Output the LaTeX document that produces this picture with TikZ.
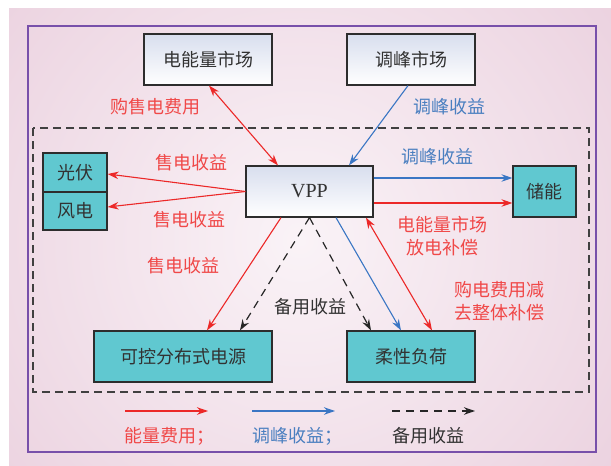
\documentclass[tikz,border=0pt]{standalone}
\usepackage{fontspec}
\setmainfont{Liberation Serif}
\newfontfamily\cjk{Noto Sans CJK SC}
\usetikzlibrary{arrows.meta,calc}
\definecolor{bgpink}{RGB}{230,198,215}
\definecolor{bglight}{RGB}{250,243,247}
\definecolor{frm}{RGB}{120,80,170}
\definecolor{cyanbox}{RGB}{96,200,208}
\definecolor{topbox}{RGB}{216,222,238}
\definecolor{redl}{RGB}{236,40,40}
\definecolor{redt}{RGB}{240,72,72}
\definecolor{bluel}{RGB}{58,118,196}
\definecolor{bluet}{RGB}{74,127,192}
\definecolor{txtgray}{RGB}{50,50,50}
\tikzset{
  box/.style={draw=txtgray!90!black, line width=1.2pt, rectangle, inner sep=0pt,
    font=\cjk\fontsize{18}{20}\selectfont, text=txtgray},
  mkt/.style={box, top color=topbox, bottom color=white},
  unit/.style={box, fill=cyanbox},
  redarr/.style={draw=redl, line width=1.1pt, -{Stealth[length=11pt,width=7.5pt]}},
  redboth/.style={draw=redl, line width=1.1pt, {Stealth[length=11pt,width=7.5pt]}-{Stealth[length=11pt,width=7.5pt]}},
  bluearr/.style={draw=bluel, line width=1.1pt, -{Stealth[length=11pt,width=7.5pt]}},
  blackarr/.style={draw=black!85, line width=1.2pt, dash pattern=on 8pt off 6pt, -{Stealth[length=11pt,width=7.5pt]}},
  lbl/.style={font=\cjk\fontsize{18}{22.5}\selectfont, inner sep=0pt, align=center},
  redlbl/.style={lbl, text=redt},
  bluelbl/.style={lbl, text=bluet},
  graylbl/.style={lbl, text=txtgray},
}
\begin{document}
\begin{tikzpicture}[x=1pt,y=-1pt]
\useasboundingbox (0,0) rectangle (611,466);
% background
\fill[white] (0,0) rectangle (611,466);
\begin{scope}
  \clip (9,8) rectangle (611,466);
  \fill[bgpink] (9,8) rectangle (611,466);
  \shade[inner color=bglight, outer color=bgpink] (300,240) circle (540);
\end{scope}
\draw[frm, line width=1.3pt] (28,26) rectangle (596,452);
\draw[black!75, line width=1.2pt, dash pattern=on 8pt off 5pt] (33,128) rectangle (589,392);

% nodes
\node[mkt, minimum width=128pt, minimum height=51pt] (em) at (208,59.5) {电能量市场};
\node[mkt, minimum width=128pt, minimum height=51pt] (tf) at (411,59.5) {调峰市场};
\node[mkt, minimum width=127pt, minimum height=51pt, font=\fontsize{20}{22}\selectfont] (vpp) at (309.5,191.5) {VPP};
\node[unit, minimum width=64pt, minimum height=39pt] (gf) at (75,172.5) {光伏};
\node[unit, minimum width=64pt, minimum height=38pt] (fd) at (75,211) {风电};
\node[unit, minimum width=63pt, minimum height=51pt] (cn) at (544.5,191.5) {储能};
\node[unit, minimum width=178pt, minimum height=51pt] (kk) at (183,356.5) {可控分布式电源};
\node[unit, minimum width=128pt, minimum height=51pt] (rx) at (411,356.5) {柔性负荷};

% connectors
\draw[redboth] ([xshift=1pt]em.south) -- ([xshift=-31.5pt]vpp.north);
\draw[bluearr] ([xshift=-3pt]tf.south) -- ([xshift=39.5pt]vpp.north);
\draw[redarr] (vpp.west) -- ([yshift=-1.5pt]gf.east);
\draw[redarr] (vpp.west) -- ([yshift=4pt]fd.east);
\draw[bluearr] ([yshift=13.5pt]vpp.east) -- ([yshift=13.5pt]cn.west);
\draw[redarr] ([yshift=-11.5pt]vpp.east) -- ([yshift=-11.5pt]cn.west);
\draw[redarr] ([xshift=-28.5pt]vpp.south) -- ([xshift=24pt]kk.north);
\draw[blackarr] (vpp.south) -- ([xshift=57pt]kk.north);
\draw[blackarr] (vpp.south) -- ([xshift=-40pt]rx.north);
\draw[bluearr] ([xshift=26.5pt]vpp.south) -- ([xshift=-10pt]rx.north);
\draw[redboth] ([xshift=56.5pt]vpp.south) -- ([xshift=21pt]rx.north);

% labels
\node[redlbl] (l1) at (155,107) {购售电费用};
\node[bluelbl] (l2) at (449,107) {调峰收益};
\node[redlbl] (l3) at (191,163) {售电收益};
\node[redlbl] (l4) at (189,220) {售电收益};
\node[redlbl] (l5) at (183,266) {售电收益};
\node[bluelbl] (l6) at (437,157) {调峰收益};
\node[redlbl] (l7) at (442,236) {电能量市场\\放电补偿};
\node[redlbl] (l8) at (499,301) {购电费用减\\去整体补偿};
\node[graylbl] (l9) at (310,307) {备用收益};

% legend
\coordinate (a1) at (125,411); \coordinate (b1) at (208,411);
\coordinate (a2) at (252,411); \coordinate (b2) at (335,411);
\coordinate (a3) at (392,411); \coordinate (b3) at (475,411);
\draw[redarr] (a1) -- (b1);
\draw[bluearr] (a2) -- (b2);
\draw[blackarr] (a3) -- (b3);
\node[redlbl, anchor=west] (t1) at (124,436) {能量费用；};
\node[bluelbl, anchor=west] (t2) at (252,436) {调峰收益；};
\node[graylbl, anchor=west] (t3) at (392,436) {备用收益};
\end{tikzpicture}
\end{document}
